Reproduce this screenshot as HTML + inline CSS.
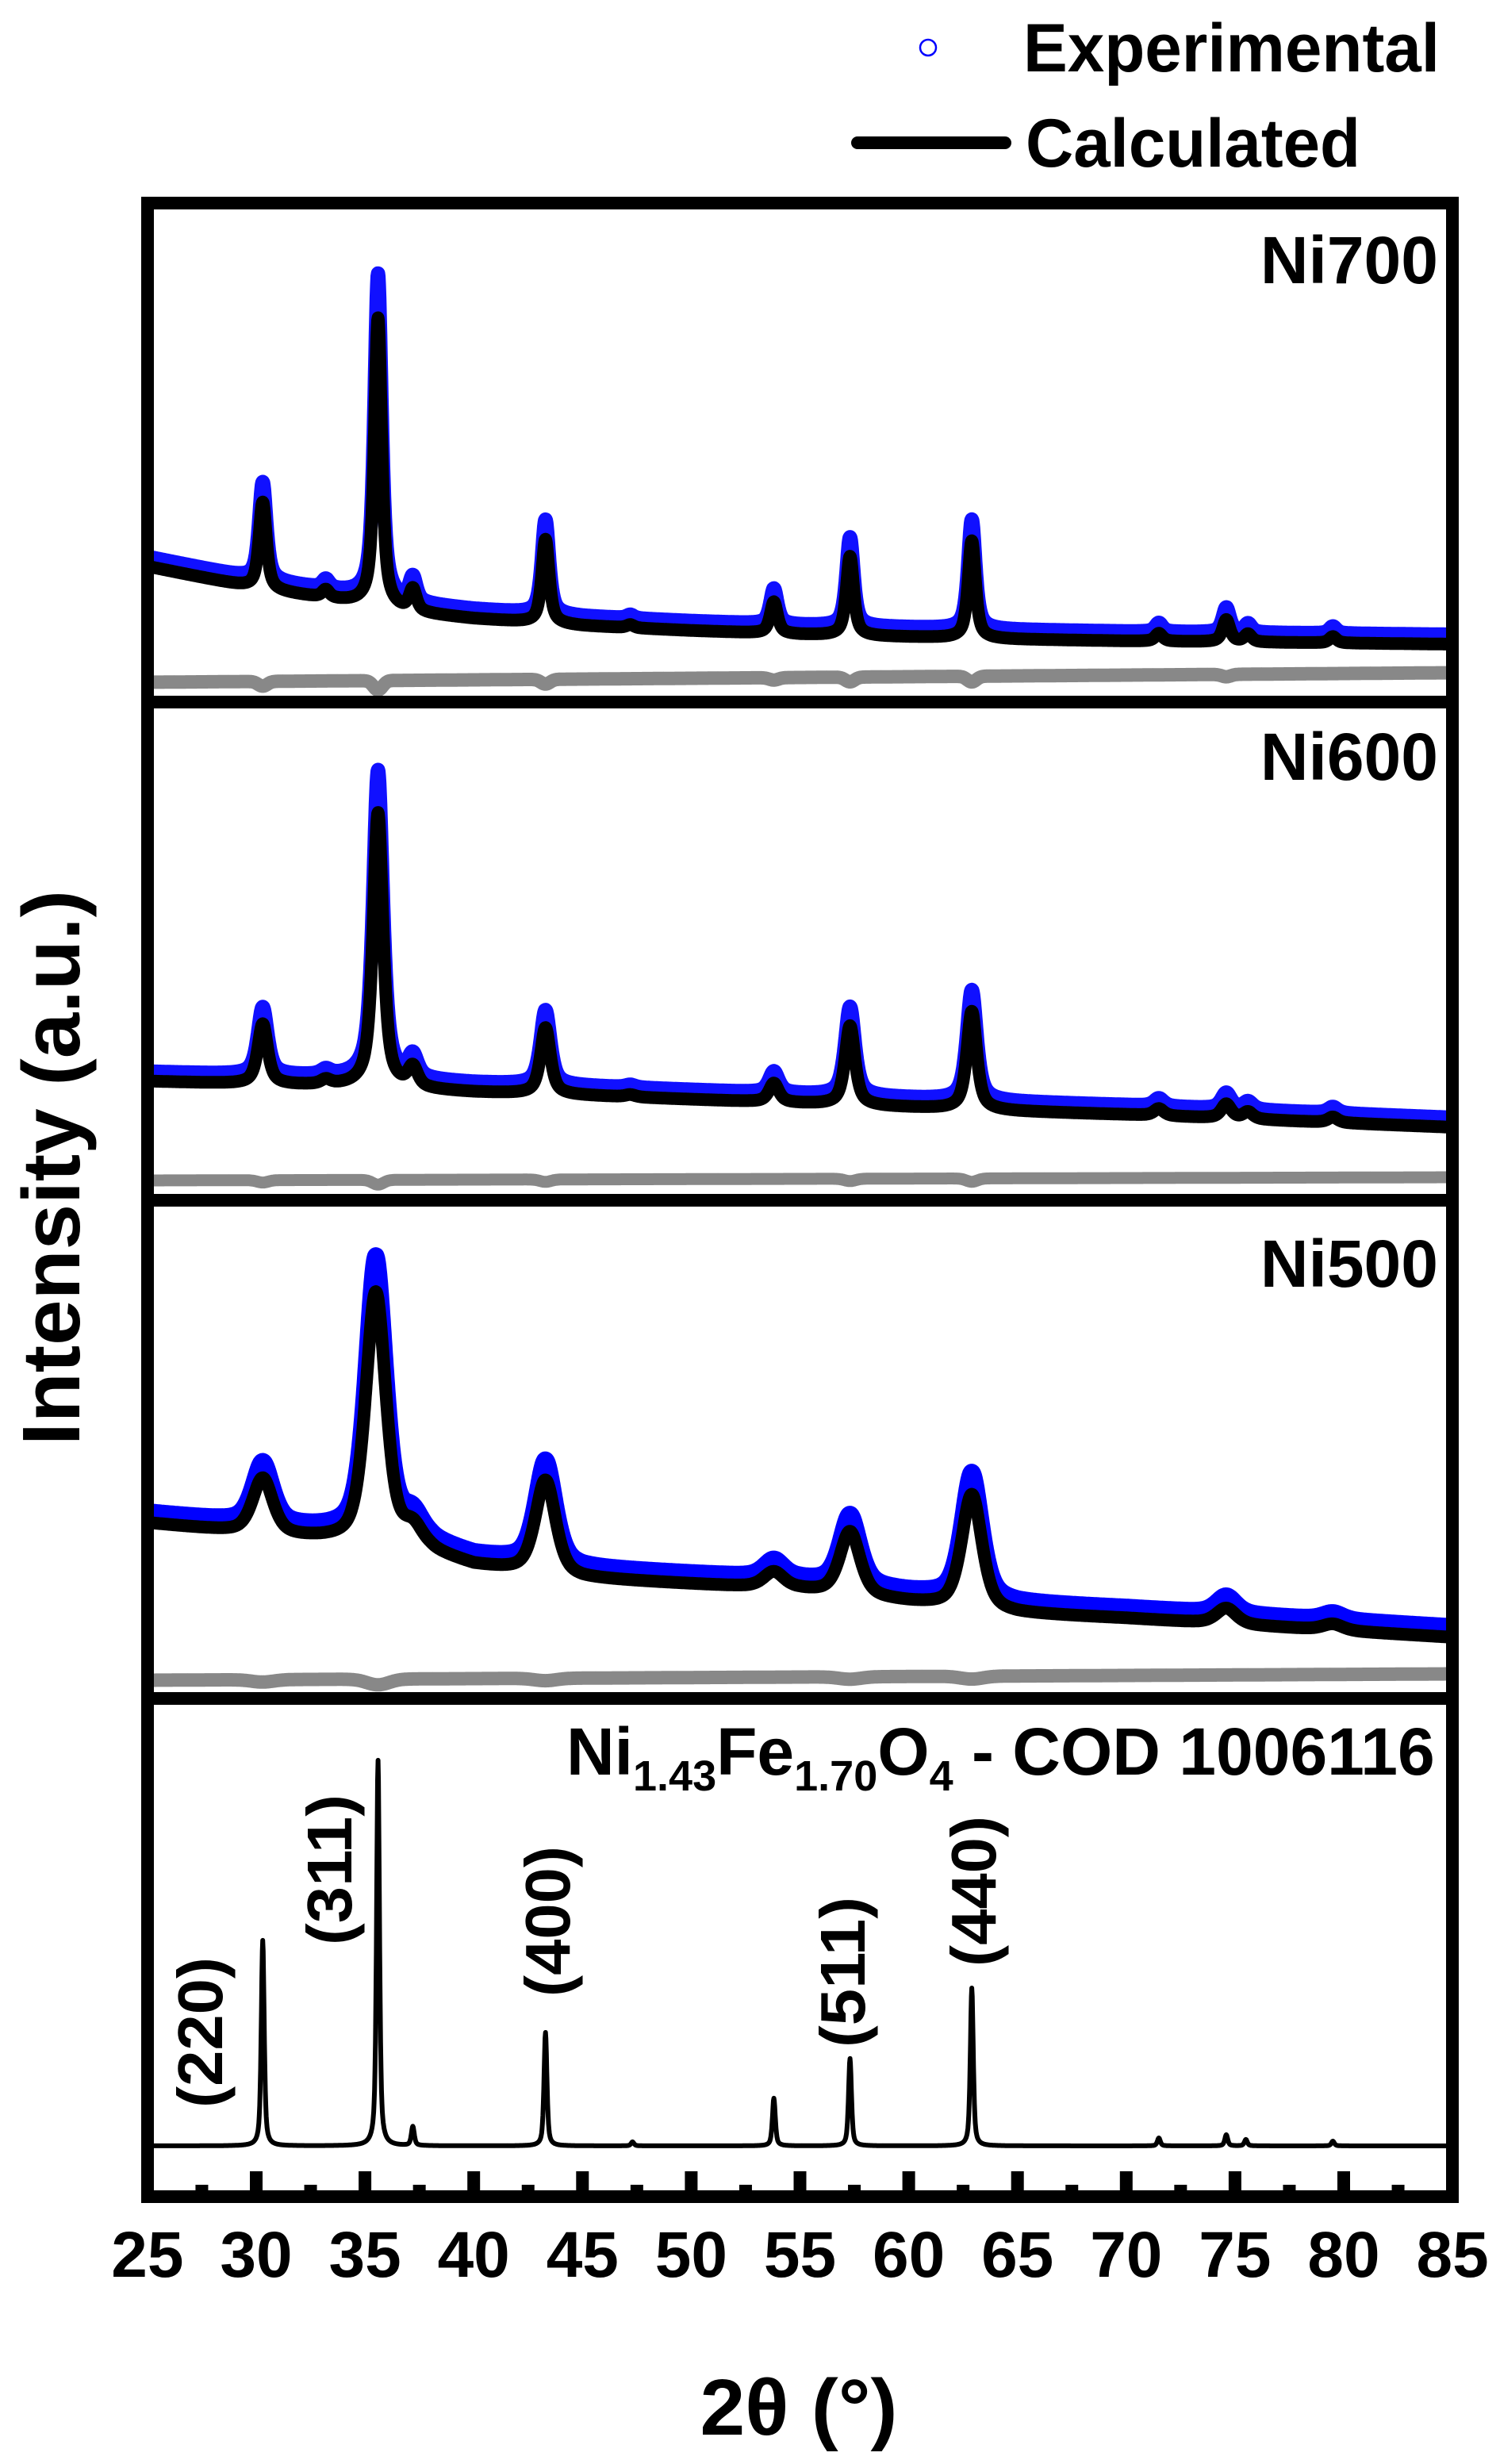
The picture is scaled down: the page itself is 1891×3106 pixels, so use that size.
<!DOCTYPE html>
<html><head><meta charset="utf-8"><style>
html,body{margin:0;padding:0;background:#fff;}
svg{display:block;}
text{font-family:"Liberation Sans",Arial,sans-serif;font-weight:bold;fill:#000;}
</style></head><body>
<svg id="s" width="1891" height="3106" viewBox="0 0 1891 3106" xmlns="http://www.w3.org/2000/svg">
<defs>
<clipPath id="c1"><rect x="194" y="265" width="1629" height="612"/></clipPath>
<clipPath id="c2"><rect x="194" y="893" width="1629" height="612"/></clipPath>
<clipPath id="c3"><rect x="194" y="1521" width="1629" height="612"/></clipPath>
<clipPath id="c4"><rect x="194" y="2149" width="1629" height="612"/></clipPath>
</defs>
<g id="data"></g>
<rect x="186" y="256" width="1645" height="2513" fill="none" stroke="#000" stroke-width="16"/>
<rect x="186" y="877" width="1645" height="16" fill="#000"/>
<rect x="186" y="1505" width="1645" height="16" fill="#000"/>
<rect x="186" y="2133" width="1645" height="16" fill="#000"/>
<g id="ticks"></g>
<circle cx="1170" cy="60" r="10" fill="none" stroke="#0000ff" stroke-width="2.5"/>
<line x1="1081" y1="180" x2="1267" y2="180" stroke="#000" stroke-width="16" stroke-linecap="round"/>
<text x="1290" y="90" font-size="86" textLength="525" lengthAdjust="spacingAndGlyphs">Experimental</text>
<text x="1293" y="210" font-size="86" textLength="422" lengthAdjust="spacingAndGlyphs">Calculated</text>
<text x="1813" y="357" font-size="84" text-anchor="end">Ni700</text>
<text x="1813" y="983" font-size="84" text-anchor="end">Ni600</text>
<text x="1813" y="1622" font-size="84" text-anchor="end">Ni500</text>
<text x="714" y="2237" font-size="84">Ni<tspan font-size="54" dy="20">1.43</tspan><tspan dy="-20">Fe</tspan><tspan font-size="54" dy="20">1.70</tspan><tspan dy="-20">O</tspan><tspan font-size="54" dy="20">4</tspan><tspan dy="-20"> - COD 1006116</tspan></text>
<text transform="translate(280,2562) rotate(-90)" font-size="80" text-anchor="middle" textLength="190" lengthAdjust="spacingAndGlyphs">(220)</text>
<text transform="translate(443,2357) rotate(-90)" font-size="80" text-anchor="middle" textLength="190" lengthAdjust="spacingAndGlyphs">(311)</text>
<text transform="translate(718,2422) rotate(-90)" font-size="80" text-anchor="middle" textLength="190" lengthAdjust="spacingAndGlyphs">(400)</text>
<text transform="translate(1090,2486) rotate(-90)" font-size="80" text-anchor="middle" textLength="190" lengthAdjust="spacingAndGlyphs">(511)</text>
<text transform="translate(1255,2384) rotate(-90)" font-size="80" text-anchor="middle" textLength="190" lengthAdjust="spacingAndGlyphs">(440)</text>
<text transform="translate(100,1472) rotate(-90)" font-size="103" text-anchor="middle" textLength="700" lengthAdjust="spacingAndGlyphs">Intensity (a.u.)</text>
<text x="1007" y="3069" font-size="100" text-anchor="middle" textLength="249" lengthAdjust="spacingAndGlyphs">2θ (°)</text>
<g id="tl"></g>
</svg>
<script>
(function(){
var NS="http://www.w3.org/2000/svg";
function X(t){return 323+(t-30)*27.42;}
function interp(pts,t){for(var i=0;i<pts.length-1;i++){if(t<=pts[i+1][0]){var a=pts[i],b=pts[i+1];return a[1]+(b[1]-a[1])*(t-a[0])/(b[0]-a[0]);}}return pts[pts.length-1][1];}
function pv(t,c,h,eta){var d=(t-c)/h;return eta/(1+d*d)+(1-eta)*Math.exp(-0.693*d*d);}
function curve(base,peaks,h,eta,scale,off){
 var s="";for(var t=25;t<=85.001;t+=0.02){var y=interp(base,t)+off;for(var i=0;i<peaks.length;i++){var p=peaks[i];y-=p[1]*scale*pv(t,p[0],(p[2]||h),eta);}
 s+=(s?"L":"M")+X(t).toFixed(1)+","+y.toFixed(1);}return s;}
function diffc(y0,y1,peaks,h,k){var s="";for(var t=25;t<=85.001;t+=0.02){var y=y0+(y1-y0)*(t-25)/60;for(var i=0;i<peaks.length;i++){var p=peaks[i];y+=p[1]*k*Math.exp(-0.693*Math.pow((t-p[0])/h,2));}
 s+=(s?"L":"M")+X(t).toFixed(1)+","+y.toFixed(1);}return s;}
function path(g,d,stroke,w,clip){var p=document.createElementNS(NS,"path");p.setAttribute("d",d);p.setAttribute("fill","none");p.setAttribute("stroke",stroke);p.setAttribute("stroke-width",w);p.setAttribute("stroke-linejoin","round");p.setAttribute("clip-path","url(#"+clip+")");g.appendChild(p);}
var g=document.getElementById("data");
var b1=[[25,714],[30,742],[35,762],[37,772],[40,780],[45,789],[50,795],[55,800],[60,803],[65,806],[70,808],[85,812]];
var p1=[[30.3,110],[33.2,10],[35.6,364],[37.2,28],[43.3,106],[47.2,4],[53.8,40],[57.3,100],[62.9,123],[71.5,10],[74.6,28],[75.6,10],[79.5,8]];
path(g,curve(b1,p1,0.2,0.7,1.12,-12),"#1010ff",18,"c1");
path(g,curve(b1,p1,0.2,0.7,1,0),"#000",16,"c1");
path(g,diffc(860,848,[[30.3,1],[35.6,2],[43.3,1],[53.8,0.5],[57.3,1],[62.9,1.2],[74.6,0.5]],0.25,6),"#888",17,"c1");
var b2=[[25,1363],[30,1367],[35,1370],[37,1373],[40,1377],[45,1381],[50,1386],[55,1391],[60,1396],[65,1401],[70,1405],[85,1421]];
var p2=[[30.3,76],[33.2,6],[35.6,346],[37.2,25],[43.3,84],[47.2,3],[53.8,24],[57.3,100],[62.9,124],[71.5,9],[74.6,18],[75.6,9],[79.5,7]];
path(g,curve(b2,p2,0.27,0.7,1.12,-12),"#1010ff",18,"c2");
path(g,curve(b2,p2,0.27,0.7,1,0),"#000",16,"c2");
path(g,diffc(1488,1484,[[30.3,0.5],[35.6,1],[43.3,0.5],[57.3,0.5],[62.9,0.7]],0.3,6),"#888",15,"c2");
var b3=[[25,1920],[30,1934],[35,1946],[38,1958],[40,1974],[45,1990],[50,1997],[55,2004],[60,2020],[65,2034],[70,2040],[85,2064]];
var p3=[[30.3,70],[35.5,318],[37.2,25],[43.3,118],[53.8,20],[57.3,80],[62.9,144],[74.6,20],[79.5,8]];
path(g,curve(b3,p3,0.55,0.5,1.1,-14),"#0000ff",20,"c3");
path(g,curve(b3,p3,0.55,0.5,1,0),"#000",16,"c3");
path(g,diffc(2118,2110,[[30.3,0.5],[35.6,1.2],[43.3,0.5],[57.3,0.5],[62.9,0.6]],0.6,6),"#888",17,"c3");
var b4=[[25,2705],[85,2705]];
var p4=[[30.3,259],[35.6,486],[37.2,24],[43.3,143],[47.3,5],[53.8,60],[57.3,110],[62.9,199],[71.5,10],[74.6,14],[75.5,8],[79.5,6]];
path(g,curve(b4,p4,0.08,0.6,1,0),"#000",6,"c4");
var tk=document.getElementById("ticks");
for(var t=27.5;t<85;t+=2.5){var maj=(Math.round(t*10)%50===0);var r=document.createElementNS(NS,"rect");var h=maj?24:7;r.setAttribute("x",X(t)-8);r.setAttribute("y",2761-h);r.setAttribute("width",16);r.setAttribute("height",h+2);tk.appendChild(r);}
var tl=document.getElementById("tl");
for(var v=25;v<=85;v+=5){var e=document.createElementNS(NS,"text");e.setAttribute("x",X(v));e.setAttribute("y",2870);e.setAttribute("font-size","82");e.setAttribute("text-anchor","middle");e.textContent=String(v);tl.appendChild(e);}
})();
</script>
</body></html>
